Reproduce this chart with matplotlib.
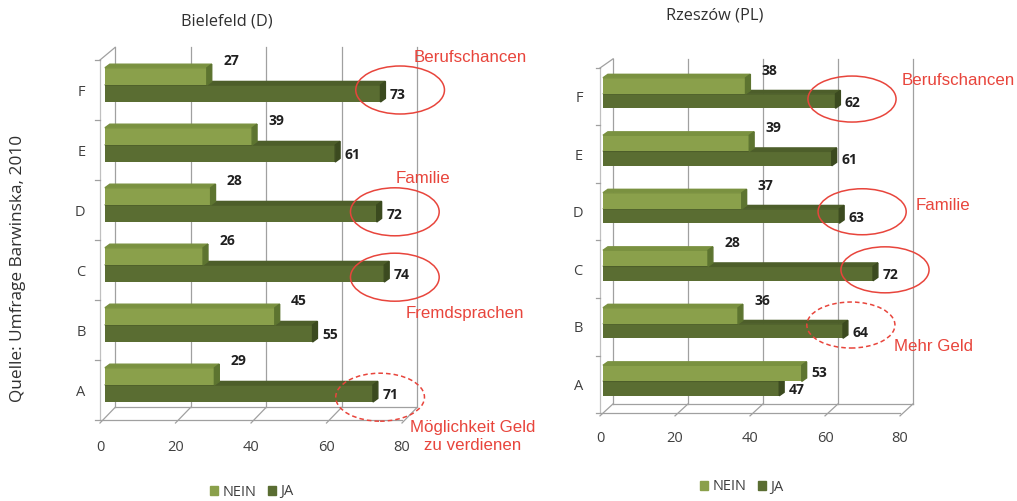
import matplotlib
matplotlib.use("Agg")
import matplotlib.pyplot as plt
from matplotlib.patches import Polygon, Ellipse, Patch
import numpy as np

plt.rcParams['font.family'] = ['Open Sans', 'DejaVu Sans']

categories = ["A", "B", "C", "D", "E", "F"]
xticks = [0, 20, 40, 60, 80]

# Bielefeld (D)
bielefeld_nein = [29, 45, 26, 28, 39, 27]
bielefeld_ja = [71, 55, 74, 72, 61, 73]

# Rzeszów (PL)
rzeszow_nein = [53, 36, 28, 37, 39, 38]
rzeszow_ja = [47, 64, 72, 63, 61, 62]

# (category, text, dashed)
bielefeld_notes = [("F", "Berufschancen", False), ("D", "Familie", False),
                   ("C", "Fremdsprachen", False), ("A", "Möglichkeit Geld\nzu verdienen", True)]
rzeszow_notes = [("F", "Berufschancen", False), ("D", "Familie", False),
                 ("C", "", False), ("B", "Mehr Geld", True)]

W, H = 1017, 501
NEIN_C = ("#8aa04b", "#7a9140", "#5d7430")   # front, top, side
JA_C = ("#5a6d32", "#4d5e2a", "#3b4a1f")
RED = "#e8453c"
GRID = "#a0a0a0"

fig = plt.figure(figsize=(W / 100, H / 100), dpi=100)


def make_axes(x0, y0, sx, sy, xlim, ylim):
    # x0: pixel of x=0, y0: pixel of the front floor (y=-0.5)
    left = x0 + xlim[0] * sx
    right = x0 + xlim[1] * sx
    bot = y0 - (ylim[0] + 0.5) * sy
    top = y0 - (ylim[1] + 0.5) * sy
    ax = fig.add_axes([left / W, (H - bot) / H, (right - left) / W, (bot - top) / H])
    ax.set_xlim(xlim)
    ax.set_ylim(ylim)
    return ax


def draw_panel(ax, nein, ja, notes, dx, dy, xoff, b, s, t, text_pos, xpad, ypad):
    y = np.arange(len(categories))
    gl = dict(color=GRID, lw=0.9, clip_on=False, zorder=1)
    # back wall grid + floor
    for x in xticks:
        ax.plot([x + dx, x + dx], [-0.5 + dy, 5.5 + dy], **gl)
        ax.plot([x, x + dx], [-0.5 - 0.05, -0.5 + dy], **gl)
    ax.plot([dx, 80 + dx], [-0.5 + dy, -0.5 + dy], **gl)
    ax.plot([0, 80], [-0.5, -0.5], **gl)
    ax.plot([0, 0], [-0.5, 5.5], color="#c0c0c0", lw=0.9, clip_on=False, zorder=1)
    ax.plot([0, dx], [5.5, 5.5 + dy], **gl)
    for c in range(len(categories) + 1):
        ax.plot([-1.2, 0], [c - 0.5, c - 0.5], **gl)

    bdx, bdy = 1.3, 0.06

    def bar3d(vals, lo, hi, cols, z):
        ax.barh(y + (lo + hi) / 2, vals, height=hi - lo, left=xoff, color=cols[0], zorder=z)
        for yi, v in zip(y, vals):
            xs, xe = xoff, xoff + v
            ax.add_patch(Polygon([(xs, yi + hi), (xe, yi + hi), (xe + bdx, yi + hi + bdy),
                                  (xs + bdx, yi + hi + bdy)], color=cols[1], zorder=z))
            ax.add_patch(Polygon([(xe, yi + lo), (xe + bdx, yi + lo + bdy),
                                  (xe + bdx, yi + hi + bdy), (xe, yi + hi)],
                                 color=cols[2], zorder=z))

    bar3d(ja, b, s, JA_C, 3)
    bar3d(nein, s, t, NEIN_C, 4)

    lab = dict(fontsize=10, fontweight="bold", color="#202020", va="center", ha="left", zorder=6)
    for yi, n, j in zip(y, nein, ja):
        if n > j:
            ax.text(xoff + n + bdx + 1.2, yi + (s + t) / 2, str(n), **lab)
        else:
            ax.text(xoff + n + bdx + 3, yi + t + 0.12, str(n), **lab)
        ax.text(xoff + j + bdx + 1.2, yi + (b + s) / 2 - 0.03, str(j), **lab)

    for (cat, txt, dashed), (ex, ey, tx, ty) in zip(notes, text_pos):
        i = categories.index(cat)
        ax.add_patch(Ellipse((xoff + ja[i] + ex, i + ey), 23.5, 0.8, fill=False, ec=RED,
                             lw=1.1, ls=(0, (3, 2)) if dashed else "-", clip_on=False, zorder=7))
        if txt:
            ax.text(tx, ty, txt, color=RED, fontsize=12.2, ha="center", va="center",
                    family=["Liberation Sans", "DejaVu Sans"], linespacing=1.25, clip_on=False)

    for sp in ax.spines.values():
        sp.set_visible(False)
    ax.set_facecolor("none")
    ax.set_xticks(xticks)
    ax.set_xticklabels([str(v) for v in xticks], fontsize=10.5, color="#404040")
    ax.set_yticks(y)
    ax.set_yticklabels(categories, fontsize=10.5, color="#404040")
    ax.tick_params(axis="x", length=0, pad=xpad)
    ax.tick_params(axis="y", length=0, pad=ypad)


ax1 = make_axes(100, 420, 3.775, 60, (-2, 84), (-0.6, 5.9))
draw_panel(ax1, bielefeld_nein, bielefeld_ja, bielefeld_notes,
           dx=4.0, dy=0.21, xoff=1.3, b=-0.2, s=0.083, t=0.37,
           text_pos=[(5.2, 0.0, 98, 5.55), (4.8, -0.03, 85.6, 3.53),
                     (2.8, -0.12, 96.7, 1.267), (1.9, -0.12, 98.8, -0.77)],
           xpad=10, ypad=5)

ax2 = make_axes(600, 413, 3.75, 57.5, (-2, 84), (-0.6, 5.9))
draw_panel(ax2, rzeszow_nein, rzeszow_ja, rzeszow_notes,
           dx=3.5, dy=0.16, xoff=0.8, b=-0.2, s=0.05, t=0.33,
           text_pos=[(4.4, -0.04, 95.5, 5.29), (6.1, 0.0, 91.5, 3.117),
                     (3.2, -0.01, 0, 0), (2.1, 0.03, 88.8, 0.665)],
           xpad=9, ypad=7)

fig.text(227 / W, 1 - 22 / H, "Bielefeld (D)", fontsize=11.8, color="#303030", ha="center", va="center")
fig.text(715 / W, 1 - 16 / H, "Rzeszów (PL)", fontsize=11.8, color="#303030", ha="center", va="center")

fig.text(18 / W, 1 - 268 / H, "Quelle: Umfrage Barwinska, 2010", rotation=90, fontsize=12.4,
         color="#303030", ha="center", va="center")

handles = [Patch(color=NEIN_C[0]), Patch(color=JA_C[0])]
for cx, cy in [(252, 492), (742, 487)]:
    fig.legend(handles, ["NEIN", "JA"], loc="center", bbox_to_anchor=(cx / W, 1 - cy / H),
               ncol=2, frameon=False, handlelength=0.55, handleheight=0.55, columnspacing=0.8,
               handletextpad=0.3, fontsize=10.5, labelcolor="#404040")

fig.savefig("out.png", dpi=100, facecolor="white")
